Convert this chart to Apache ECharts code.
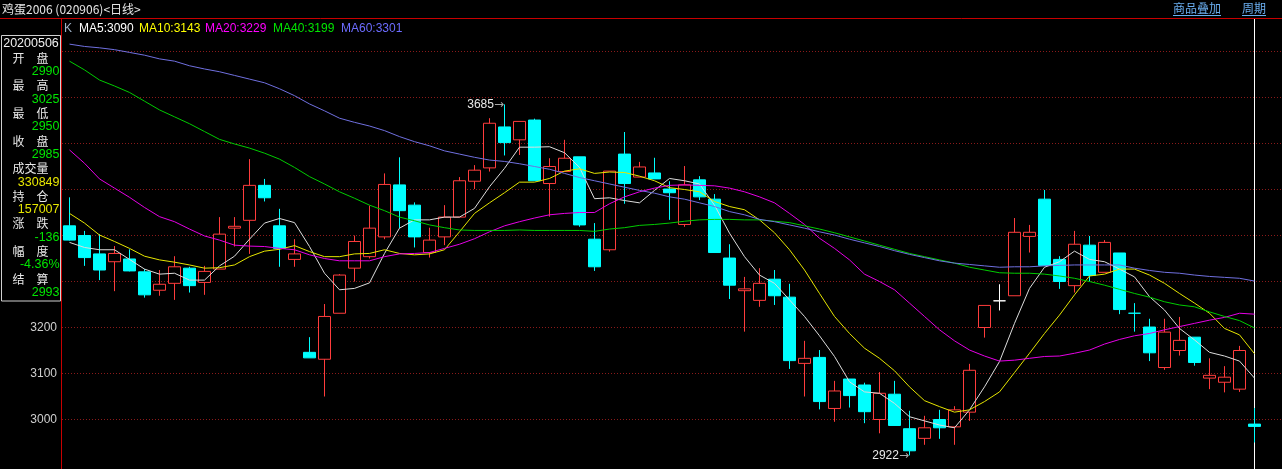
<!DOCTYPE html>
<html><head><meta charset="utf-8">
<script src="https://cdn.jsdelivr.net/npm/echarts@6/dist/echarts.min.js"></script>
<style>html,body{margin:0;padding:0;background:#000;overflow:hidden}#c{width:1282px;height:469px}</style>
</head><body><div id="c"></div>
<script>
const dates = ['20200102','20200103','20200106','20200107','20200108','20200109','20200110','20200113','20200114','20200115',
'20200116','20200117','20200120','20200121','20200122','20200123','20200203','20200204','20200205','20200206',
'20200207','20200210','20200211','20200212','20200213','20200214','20200217','20200218','20200219','20200220',
'20200221','20200224','20200225','20200226','20200227','20200228','20200302','20200303','20200304','20200305',
'20200306','20200309','20200310','20200311','20200312','20200313','20200316','20200317','20200318','20200319',
'20200320','20200323','20200324','20200325','20200326','20200327','20200330','20200331','20200401','20200402',
'20200403','20200407','20200408','20200409','20200410','20200413','20200414','20200415','20200416','20200417',
'20200420','20200421','20200422','20200423','20200424','20200427','20200428','20200429','20200430','20200506'];
const openP = [3421,3400,3360,3343,3349,3321,3281,3296,3329,3298,3327,3416,3433,3509,3421,3348,3146,3131,3231,3329,
3354,3397,3510,3466,3363,3397,3440,3518,3547,3636,3608,3651,3513,3539,3571,3392,3369,3577,3527,3536,
3501,3424,3521,3479,3351,3280,3259,3305,3266,3122,3135,3024,3088,3075,3000,3055,2980,2959,3000,2984,
3016,3200,3258,3269,3398,3479,3348,3291,3379,3320,3362,3231,3201,3113,3150,3179,3090,3081,3066,2990];
const closeP = [3390,3352,3325,3361,3323,3271,3294,3332,3291,3322,3403,3420,3509,3482,3372,3360,3134,3224,3314,3387,
3416,3511,3454,3397,3390,3440,3519,3542,3644,3602,3648,3519,3550,3568,3423,3332,3540,3513,3549,3523,
3493,3510,3484,3363,3292,3284,3296,3269,3128,3133,3039,3062,3052,3017,3057,2987,2932,2982,2982,3021,
3107,3248,3258,3407,3407,3335,3300,3381,3313,3385,3239,3231,3145,3190,3172,3124,3096,3092,3150,2985];
const lowP = [3389,3334,3303,3279,3322,3265,3269,3260,3276,3271,3327,3376,3360,3474,3332,3332,3134,3050,3231,3300,
3350,3392,3416,3374,3352,3379,3440,3501,3539,3574,3575,3519,3441,3539,3419,3323,3365,3469,3527,3523,
3434,3419,3477,3363,3262,3191,3245,3249,3110,3050,3022,2995,3026,2992,2970,2986,2922,2945,2958,2945,
2997,3178,3237,3269,3363,3335,3284,3276,3300,3320,3229,3191,3127,3108,3139,3117,3066,3059,3060,2950];
const highP = [3483,3410,3403,3377,3370,3327,3325,3355,3332,3334,3440,3440,3566,3523,3458,3392,3179,3251,3316,3400,
3465,3535,3570,3472,3417,3466,3527,3553,3655,3685,3648,3654,3568,3608,3571,3427,3540,3625,3560,3569,
3518,3551,3529,3490,3381,3310,3329,3325,3295,3171,3151,3084,3088,3080,3103,3084,3019,3008,3021,3029,
3121,3248,3294,3438,3423,3499,3355,3410,3399,3390,3362,3253,3219,3219,3223,3179,3133,3116,3160,3025];
const ma5 = [3385,3374,3369,3369,3348,3327,3316,3318,3303,3303,3334,3355,3392,3427,3437,3428,3376,3318,3282,3285,
3297,3361,3416,3434,3434,3440,3440,3459,3506,3546,3592,3592,3593,3580,3548,3480,3482,3476,3471,3498,
3524,3519,3512,3466,3405,3354,3314,3296,3260,3224,3182,3137,3082,3060,3057,3035,3006,2997,2988,2982,
3021,3071,3126,3209,3285,3331,3343,3366,3348,3343,3327,3310,3267,3238,3198,3173,3146,3138,3127,3090];
const ma10 = [3448,3427,3401,3387,3372,3355,3347,3342,3336,3329,3330,3336,3354,3366,3370,3378,3365,3354,3354,3360,
3361,3369,3361,3358,3360,3369,3408,3448,3471,3493,3516,3516,3524,3540,3545,3535,3538,3537,3529,3519,
3504,3500,3495,3474,3463,3456,3434,3406,3369,3325,3274,3224,3187,3155,3133,3106,3071,3041,3028,3016,
3021,3039,3060,3102,3144,3187,3227,3271,3312,3316,3327,3327,3314,3296,3274,3253,3231,3198,3184,3143];
const ma20 = [3586,3557,3523,3503,3483,3461,3441,3430,3414,3399,3390,3379,3377,3376,3372,3369,3358,3350,3345,3345,
3345,3354,3360,3361,3363,3372,3381,3393,3408,3421,3430,3438,3445,3448,3450,3450,3469,3484,3495,3503,
3509,3510,3509,3508,3503,3495,3484,3471,3448,3424,3394,3372,3347,3316,3300,3282,3253,3224,3195,3171,
3151,3138,3127,3129,3133,3137,3138,3144,3151,3164,3174,3182,3187,3195,3202,3209,3216,3222,3231,3229];
const ma40 = [3779,3760,3738,3725,3711,3692,3673,3658,3643,3626,3609,3599,3590,3579,3566,3548,3528,3512,3495,3481,
3466,3454,3440,3432,3423,3417,3412,3411,3411,3411,3412,3411,3411,3411,3411,3409,3414,3417,3422,3424,
3427,3431,3434,3435,3435,3434,3434,3431,3428,3421,3414,3406,3397,3388,3379,3370,3361,3354,3347,3340,
3331,3325,3319,3318,3318,3316,3312,3307,3300,3292,3283,3274,3266,3256,3249,3245,3234,3224,3215,3199];
const ma60 = [3816,3811,3808,3804,3798,3792,3784,3779,3769,3762,3756,3748,3740,3732,3719,3704,3686,3671,3655,3646,
3638,3628,3615,3604,3595,3584,3577,3570,3564,3561,3556,3550,3544,3535,3526,3519,3512,3505,3498,3492,
3484,3479,3471,3463,3452,3445,3435,3430,3423,3416,3408,3401,3392,3384,3376,3367,3359,3352,3345,3340,
3337,3334,3331,3332,3332,3334,3335,3336,3336,3336,3336,3329,3324,3320,3318,3314,3311,3309,3307,3301];
const yTickLabels = [3000, 3100, 3200];
const infoDate = '20200506';
const infoLabels = ['开\u3000盘','最\u3000高','最\u3000低','收\u3000盘','成交量','持\u3000仓','涨\u3000跌','幅\u3000度','结\u3000算'];
const infoValues = ['2990','3025','2950','2985','330849','157007','-136','-4.36%','2993'];
const infoValueColors = ['#00e600','#00e600','#00e600','#00e600','#e6e600','#e6e600','#00e600','#00e600','#00e600'];

const UP = '#ff3c3c', DOWN = '#00ffff';
const NUMF = '"Liberation Sans", Arial, sans-serif';
const CJKF = '"Noto Sans CJK SC", sans-serif';

const candleData = dates.map((d, i) => {
  const v = [openP[i], closeP[i], lowP[i], highP[i]];
  if (openP[i] === closeP[i]) {
    const c = (i > 0 && closeP[i] < closeP[i-1]) ? DOWN : '#ffffff';
    return {value: v, itemStyle: {color: c, color0: c, borderColor: c, borderColor0: c, borderColorDoji: c}};
  }
  return v;
});
let hiIdx = 0, loIdx = 0;
highP.forEach((h, i) => { if (h > highP[hiIdx]) hiIdx = i; });
lowP.forEach((l, i) => { if (l < lowP[loIdx]) loIdx = i; });

const maDefs = [
  {name:'MA5', data: ma5, line:'#dcdcdc', text:'#ffffff', x:79},
  {name:'MA10', data: ma10, line:'#e6e600', text:'#ffff00', x:139},
  {name:'MA20', data: ma20, line:'#e600e6', text:'#ff00ff', x:205},
  {name:'MA40', data: ma40, line:'#00cc00', text:'#00e600', x:273},
  {name:'MA60', data: ma60, line:'#7070e0', text:'#6c6cff', x:341}
];

const graphics = [
  {type:'line', shape:{x1:0,y1:18.5,x2:1282,y2:18.5}, style:{stroke:'#c80000', lineWidth:1}, z:50},
  {type:'line', shape:{x1:61.5,y1:18.5,x2:61.5,y2:469}, style:{stroke:'#c80000', lineWidth:1}, z:50},
  {type:'text', x:2, y:9, style:{text:'鸡蛋2006 (020906)<日线>', fill:'#e6e6e6', font:'12px '+CJKF, textVerticalAlign:'middle'}, z:50},
  {type:'text', x:1173, y:8.5, style:{text:'商品叠加', fill:'#6aaef0', font:'12px '+CJKF, textVerticalAlign:'middle'}, z:50},
  {type:'line', shape:{x1:1173,y1:15.5,x2:1221,y2:15.5}, style:{stroke:'#6aaef0', lineWidth:1}, z:50},
  {type:'text', x:1242, y:8.5, style:{text:'周期', fill:'#6aaef0', font:'12px '+CJKF, textVerticalAlign:'middle'}, z:50},
  {type:'line', shape:{x1:1242,y1:15.5,x2:1266,y2:15.5}, style:{stroke:'#6aaef0', lineWidth:1}, z:50},
  {type:'text', x:64, y:28.5, style:{text:'K', fill:'#9fb3c8', font:'12px '+NUMF, textVerticalAlign:'middle'}, z:50},
  {type:'rect', shape:{x:1.5,y:35.5,width:59,height:265.5}, style:{fill:'#000', stroke:'#d0d0d0', lineWidth:1}, z:50},
  {type:'text', x:31, y:43.5, style:{text:infoDate, fill:'#f0f0f0', font:'12.5px '+NUMF, textAlign:'center', textVerticalAlign:'middle'}, z:51}
];
maDefs.forEach(m => {
  graphics.push({type:'text', x:m.x, y:28.5, style:{text: m.name + ':' + m.data[m.data.length-1], fill:m.text, font:'12px '+NUMF, textVerticalAlign:'middle'}, z:50});
});
infoLabels.forEach((lab, k) => {
  const y = 58.3 + k * 27.6;
  graphics.push({type:'text', x:30.5, y:y, style:{text:lab, fill:'#e8e8e8', font:'12px '+CJKF, textAlign:'center', textVerticalAlign:'middle'}, z:51});
  graphics.push({type:'text', x:59.5, y:y+13.5, style:{text:infoValues[k], fill:infoValueColors[k], font:'12.5px '+NUMF, textAlign:'right', textVerticalAlign:'middle'}, z:51});
});

const series = [{
  type:'candlestick', name:'K', xAxisIndex:0, yAxisIndex:0, data:candleData, barWidth:12,
  itemStyle:{color:'#000', color0:DOWN, borderColor:UP, borderColor0:DOWN, borderWidth:1},
  emphasis:{disabled:true}, silent:true,
  markLine:{silent:true, z:1, symbol:['none','none'], animation:false, label:{show:false},
    lineStyle:{color:'#ffffff', width:1, type:'solid'}, data:[{xAxis: dates[dates.length-1]}]},
  markPoint:{silent:true, animation:false, symbol:'circle', symbolSize:1, itemStyle:{color:'rgba(0,0,0,0)'},
    label:{show:true, position:'left', distance:0,
      formatter: p => '{v|' + p.value + '}{a|→}',
      rich:{v:{color:'#e8e8e8', fontSize:12, fontFamily:NUMF}, a:{color:'#a8a8a8', fontSize:12, fontFamily:'"DejaVu Sans"'}}},
    data:[{coord:[dates[hiIdx], highP[hiIdx]], value: highP[hiIdx]}, {coord:[dates[loIdx], lowP[loIdx]], value: lowP[loIdx]}]}
}];
maDefs.forEach(m => series.push({
  type:'line', name:m.name, xAxisIndex:0, yAxisIndex:0, data:m.data, showSymbol:false, symbol:'none',
  lineStyle:{color:m.line, width:1}, silent:true, emphasis:{disabled:true}
}));

const chart = echarts.init(document.getElementById('c'), null, {renderer:'canvas', width:1282, height:469});
chart.setOption({
  backgroundColor:'#000', animation:false,
  grid:[
    {left:62, right:20, top:19, bottom:0, containLabel:false, outerBoundsMode:'none'},
    {left:62, right:0, top:51.5, bottom:49.5, containLabel:false, outerBoundsMode:'none'}
  ],
  xAxis:[
    {gridIndex:0, type:'category', data:dates, boundaryGap:true, show:false},
    {gridIndex:1, type:'value', min:0, max:1, show:false}
  ],
  yAxis:[
    {gridIndex:0, type:'value', min:2892.4, max:3870.65, show:false, splitLine:{show:false}},
    {gridIndex:1, type:'value', min:3000, max:3800, interval:100, position:'left',
      axisLine:{show:false}, axisTick:{show:false},
      axisLabel:{show:true, margin:5, color:'#cfcfcf', fontSize:12, fontFamily:NUMF,
        formatter: v => yTickLabels.indexOf(v) >= 0 ? String(v) : ''},
      splitLine:{show:true, lineStyle:{color:'#8a1a1a', width:1, type:[1,2]}}}
  ],
  graphic: graphics,
  series: series
});
</script></body></html>
